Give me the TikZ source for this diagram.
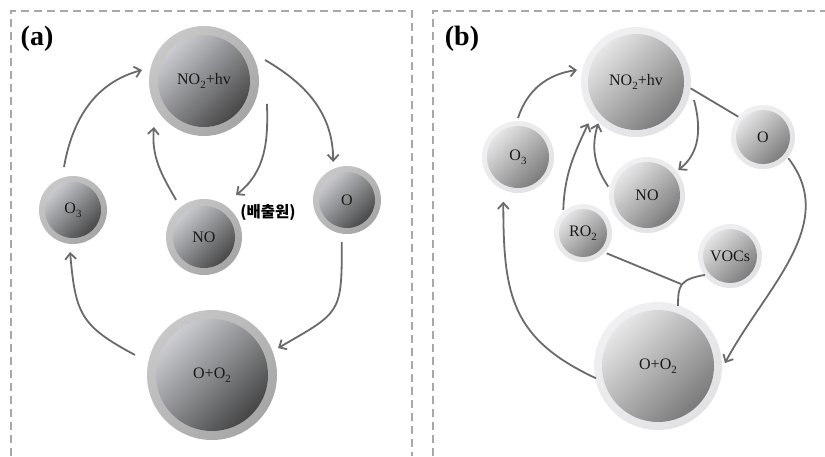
\documentclass[tikz,border=0pt]{standalone}
\usepackage{fontspec}
\setmainfont{Liberation Serif}
\newfontfamily\krfont{Noto Sans CJK KR}
\usetikzlibrary{arrows.meta,calc}
\definecolor{ringAa}{HTML}{C8C8C8}
\definecolor{ringAb}{HTML}{A6A6A6}
\definecolor{inAa}{HTML}{D6D8DD}
\definecolor{inAb}{HTML}{3A3A3A}
\definecolor{ringBa}{HTML}{F0F0F2}
\definecolor{ringBb}{HTML}{E2E2E4}
\definecolor{inBa}{HTML}{EEEEEE}
\definecolor{inBb}{HTML}{727272}
\definecolor{lineA}{HTML}{6A6A6A}
\definecolor{bordc}{HTML}{A8A8A8}
\newcommand{\sbs}[1]{\raisebox{-0.28em}{\fontsize{11}{11}\selectfont #1}}
\tikzset{
  balla/.style 2 args={circle, inner sep=0pt, minimum size=#1*2pt,
    top color=ringAa, bottom color=ringAb, shading angle=45,
    path picture={\shade[top color=inAa, bottom color=inAb, shading angle=45]
      (path picture bounding box.center) circle (#2pt);},
    font=\fontsize{16}{16}\selectfont, text=black!90},
  ballb/.style 2 args={circle, inner sep=0pt, minimum size=#1*2pt,
    top color=ringBa, bottom color=ringBb, shading angle=45,
    path picture={\shade[top color=inBa, bottom color=inBb, shading angle=45]
      (path picture bounding box.center) circle (#2pt);},
    font=\fontsize{16}{16}\selectfont, text=black!90},
  arr/.style={draw=lineA, line width=1.8pt, -{Straight Barb[length=6pt,width=11pt]}},
  plain/.style={draw=lineA, line width=1.8pt},
  bordst/.style={draw=bordc, line width=1.3pt, dash pattern=on 8pt off 5pt},
  panlabel/.style={font=\bfseries\fontsize{28}{28}\selectfont, inner sep=0pt},
}
\begin{document}
\begin{tikzpicture}[x=1pt,y=1pt]
\useasboundingbox (0,0) rectangle (825,-456);
% borders
\draw[bordst] (11,-456) -- (11,-11) -- (412,-11) -- (412,-456);
\draw[bordst] (433,-456) -- (433,-11) -- (825,-11);
% labels
\node[panlabel] (la) at (37,-39) {(a)};
\node[panlabel] (lb) at (462,-39) {(b)};
% panel (a)
\node[balla={55}{46}] (na) at (204,-81) {NO\sbs{2}+hv};
\node[balla={34}{28}] (o3a) at (73,-210) {O\sbs{3}};
\node[balla={38}{31}] (noa) at (204,-237) {NO};
\node[balla={34}{28}] (oa) at (347,-200) {O};
\node[balla={65}{56}] (ooa) at (212,-375) {O+O\sbs{2}};
\node[font=\krfont\bfseries\fontsize{15.5}{15.5}\selectfont, inner sep=0pt] (src) at (268,-213) {(배출원)};
\draw[arr] ($(o3a)+(101.8:44pt)$) to[out=80,in=195] ($(na)+(170:63pt)$);
\draw[arr] ($(na)+(19:64.5pt)$) to[out=-30,in=90] ($(oa)+(110:40.5pt)$);
\draw[arr] ($(na)+(-20:67pt)$) to[out=-88,in=38] ($(noa)+(52.7:52.8pt)$);
\draw[arr] ($(noa)+(127:46.4pt)$) to[out=120,in=-95] ($(na)+(222.6:68pt)$);
\draw[arr] ($(oa)+(263:42.3pt)$) to[out=-90,in=30,looseness=1.5] ($(ooa)+(22.2:71.3pt)$);
\draw[arr] ($(ooa)+(165.4:79.6pt)$) to[out=152,in=-85,looseness=1.3] ($(o3a)+(266:42.1pt)$);
% panel (b)
\node[ballb={55}{48}] (nb) at (636,-82) {NO\sbs{2}+hv};
\node[ballb={36}{31}] (o3b) at (518,-157) {O\sbs{3}};
\node[ballb={32}{27}] (ob) at (763,-137) {O};
\node[ballb={38}{33}] (nob) at (647,-195) {NO};
\node[ballb={29}{24}] (rob) at (583,-233) {RO\sbs{2}};
\node[ballb={32}{27}] (vb) at (730,-256) {VOCs};
\node[ballb={64}{56}] (oob) at (658,-366) {O+O\sbs{2}};
\coordinate (j) at (681,-284);
\draw[arr] ($(o3b)+(90:39pt)$) to[out=72,in=188] ($(nb)+(168.5:60.2pt)$);
\draw[plain] ($(nb)+(-6.6:55pt)$) -- ($(ob)+(140.6:32pt)$);
\draw[arr] ($(nb)+(-17.2:60.7pt)$) to[out=-75,in=38] ($(nob)+(38.6:40pt)$);
\draw[arr] ($(nob)+(167.9:39.6pt)$) to[out=124,in=-107] ($(nb)+(227.6:56pt)$);
\draw[arr] ($(rob)+(130.6:30.3pt)$) to[out=88,in=-115] ($(nb)+(220.9:63pt)$);
\draw[plain] ($(rob)+(-40.6:31.2pt)$) -- (j);
\draw[plain] ($(vb)+(217:31.4pt)$) .. controls +(190:26pt) and +(90:20pt) .. ($(oob)+(71.6:63.5pt)$);
\draw[arr] ($(ob)+(-40:33pt)$) to[out=-52,in=62] ($(oob)+(2.5:67pt)$);
\draw[arr] ($(oob)+(191.2:63.2pt)$) to[out=155,in=-90,looseness=1.2] ($(o3b)+(251.8:47pt)$);
\end{tikzpicture}
\end{document}
